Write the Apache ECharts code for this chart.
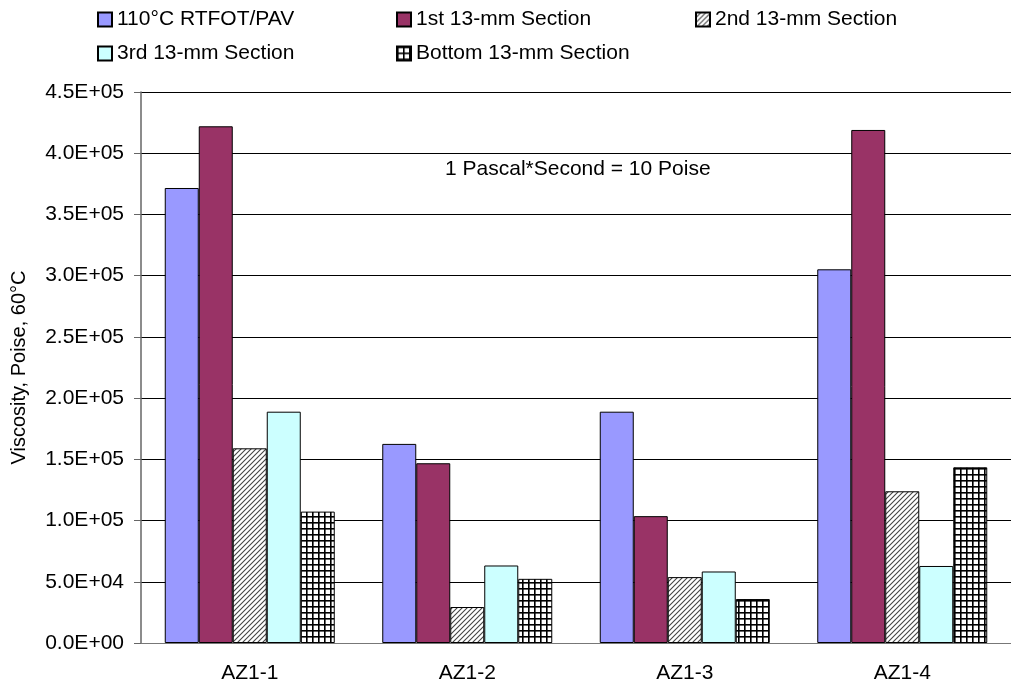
<!DOCTYPE html>
<html>
<head>
<meta charset="utf-8">
<script src="https://cdn.jsdelivr.net/npm/echarts@6/dist/echarts.min.js"></script>
<style>html,body{margin:0;padding:0;background:#fff}#c{width:1011px;height:688px}</style>
</head>
<body>
<div id="c"></div>
<script>
const categories = ['AZ1-1', 'AZ1-2', 'AZ1-3', 'AZ1-4'];
const seriesNames = ['110°C RTFOT/PAV', '1st 13-mm Section', '2nd 13-mm Section', '3rd 13-mm Section', 'Bottom 13-mm Section'];
const rtfotPav = [371600, 162600, 188900, 305200];
const section1 = [422000, 146800, 103600, 419000];
const section2 = [159000, 29400, 53800, 123900];
const section3 = [188900, 63300, 58400, 62900];
const sectionBottom = [107300, 52400, 35900, 143500];
const yTickLabels = ['0.0E+00', '5.0E+04', '1.0E+05', '1.5E+05', '2.0E+05', '2.5E+05', '3.0E+05', '3.5E+05', '4.0E+05', '4.5E+05'];
const yAxisTitle = 'Viscosity, Poise, 60°C';
const noteText = '1 Pascal*Second = 10 Poise';

function hatchPattern() {
  const c = document.createElement('canvas');
  c.width = 5; c.height = 5;
  const g = c.getContext('2d');
  g.fillStyle = '#fff'; g.fillRect(0, 0, 5, 5);
  g.strokeStyle = '#444'; g.lineWidth = 1.1;
  g.beginPath();
  g.moveTo(-1, 6); g.lineTo(6, -1);
  g.moveTo(-1, 1); g.lineTo(1, -1);
  g.moveTo(4, 6); g.lineTo(6, 4);
  g.stroke();
  return c;
}
function gridPattern() {
  const c = document.createElement('canvas');
  c.width = 6; c.height = 6;
  const g = c.getContext('2d');
  g.fillStyle = '#fff'; g.fillRect(0, 0, 6, 6);
  g.fillStyle = '#000';
  g.fillRect(0, 0, 6, 1.6);
  g.fillRect(0, 0, 1.6, 6);
  return c;
}

const fills = [
  '#9999FF',
  '#993366',
  { image: hatchPattern(), repeat: 'repeat' },
  '#CCFFFF',
  { image: gridPattern(), repeat: 'repeat' }
];
const dataSets = [rtfotPav, section1, section2, section3, sectionBottom];

const font = 'Liberation Sans, Arial, sans-serif';
const FS = 21;
const legendPos = [[97, 9], [396, 9], [695, 9], [97, 43], [396, 43]];

const chart = echarts.init(document.getElementById('c'), null, { renderer: 'canvas' });
chart.setOption({
  animation: false,
  backgroundColor: '#fff',
  textStyle: { fontFamily: font },
  grid: { left: 141, top: 92, bottom: 45, width: 881 },
  legend: seriesNames.map((n, i) => ({
    data: [n], left: legendPos[i][0], top: legendPos[i][1], padding: 0,
    itemWidth: 14, itemHeight: 14, itemGap: 0, icon: 'rect',
    textStyle: { fontSize: FS, color: '#000', fontFamily: font }
  })),
  xAxis: {
    type: 'category', data: categories,
    axisLine: { lineStyle: { color: '#777', width: 1 } },
    axisTick: { length: 7, lineStyle: { color: '#777' } },
    axisLabel: { fontSize: FS, color: '#000', margin: 20, fontFamily: font }
  },
  yAxis: {
    type: 'value', min: 0, max: 450000, interval: 50000,
    name: yAxisTitle, nameLocation: 'middle', nameGap: 112,
    nameTextStyle: { fontSize: 20, color: '#000', fontFamily: font },
    axisLine: { show: true, lineStyle: { color: '#666', width: 1.5 } },
    axisTick: { show: true, length: 7, lineStyle: { color: '#666' } },
    axisLabel: { fontSize: FS, color: '#000', margin: 17, fontFamily: font,
      formatter: (v) => yTickLabels[Math.round(v / 50000)] },
    splitLine: { show: true, lineStyle: { color: '#000', width: 1 } }
  },
  series: seriesNames.map((n, i) => ({
    name: n, type: 'bar', data: dataSets[i],
    barWidth: 34, barGap: '0%',
    itemStyle: { color: fills[i], borderColor: '#000', borderWidth: 1 }
  })),
  graphic: [{
    type: 'text', left: 445, top: 159,
    style: { text: noteText, fontSize: FS, fill: '#000', fontFamily: font }
  }]
});
</script>
</body>
</html>
